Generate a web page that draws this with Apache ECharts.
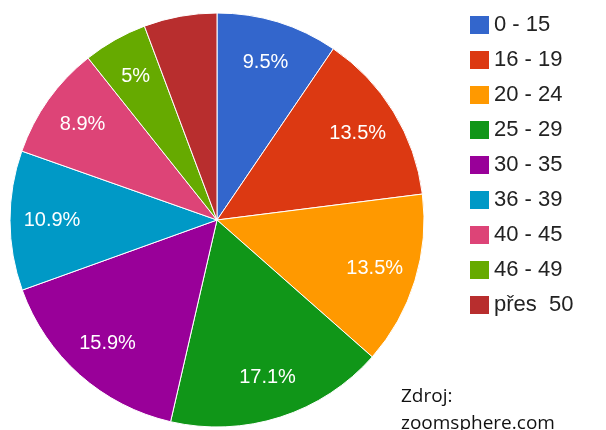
<!DOCTYPE html>
<html>
<head>
<meta charset="utf-8">
<script src="https://cdn.jsdelivr.net/npm/echarts@6/dist/echarts.min.js"></script>
<style>
  html, body { margin: 0; padding: 0; background: #fff; }
  #chart { width: 606px; height: 430px; }
</style>
</head>
<body>
<div id="chart"></div>
<script>
// věkové skupiny a jejich podíl v %
const categories = ['0 - 15', '16 - 19', '20 - 24', '25 - 29', '30 - 35', '36 - 39', '40 - 45', '46 - 49', 'přes  50'];
const shares = [9.5, 13.5, 13.5, 17.1, 15.9, 10.9, 8.9, 5, 5.7];
const colors = ['#3366cc', '#dc3912', '#ff9900', '#109618', '#990099', '#0099c6', '#dd4477', '#66aa00', '#b82e2e'];

const chart = echarts.init(document.getElementById('chart'));

const pieData = categories.map((name, i) => ({ name: name, value: shares[i] }));

const option = {
  color: colors,
  animation: false,
  legend: {
    orient: 'vertical',
    left: 463,
    top: 9,
    icon: 'rect',
    itemWidth: 21,
    itemHeight: 20,
    itemGap: 13,
    data: categories,
    textStyle: {
      fontFamily: "'Liberation Sans', Arial, sans-serif",
      fontSize: 22,
      color: '#222',
      padding: [0, 0, 0, -1]
    }
  },
  graphic: [
    {
      type: 'text',
      left: 401,
      top: 383,
      style: {
        text: 'Zdroj:\nzoomsphere.com',
        font: '19px "Open Sans", sans-serif',
        lineHeight: 27,
        fill: '#111'
      }
    }
  ],
  series: [
    {
      type: 'pie',
      center: [217, 220],
      radius: [0, 207],
      startAngle: 90,
      clockwise: true,
      label: { show: false },
      labelLine: { show: false },
      itemStyle: { borderColor: '#fff', borderWidth: 1 },
      emphasis: { disabled: true },
      data: pieData
    },
    {
      // průhledný prstenec jen kvůli poloze popisků
      type: 'pie',
      center: [217, 220],
      radius: [117, 207],
      startAngle: 90,
      clockwise: true,
      silent: true,
      z: 3,
      itemStyle: { color: 'rgba(0,0,0,0)', borderWidth: 0 },
      label: {
        show: true,
        position: 'inside',
        color: '#fff',
        fontFamily: "'Liberation Sans', Arial, sans-serif",
        fontSize: 20,
        formatter: p => (p.dataIndex === categories.length - 1 ? '' : p.value + '%')
      },
      labelLine: { show: false },
      emphasis: { disabled: true },
      data: pieData
    }
  ]
};

chart.setOption(option);
</script>
</body>
</html>
